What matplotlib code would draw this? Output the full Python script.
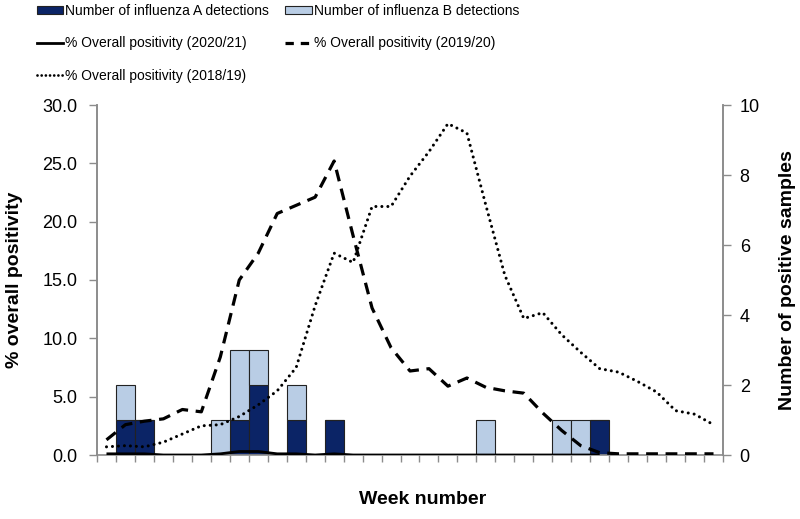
import matplotlib
matplotlib.use("Agg")
import matplotlib.pyplot as plt
from matplotlib import font_manager
from matplotlib.patches import Patch
from matplotlib.lines import Line2D
import numpy as np

# ---------------- data ----------------
weeks = [40, 41, 42, 43, 44, 45, 46, 47, 48, 49, 50, 51, 52,
         1, 2, 3, 4, 5, 6, 7, 8, 9, 10, 11, 12, 13, 14, 15, 16, 17, 18, 19, 20]
flu_a = [0, 1, 1, 0, 0, 0, 0, 1, 2, 0, 1, 0, 1,
         0, 0, 0, 0, 0, 0, 0, 0, 0, 0, 0, 0, 0, 1, 0, 0, 0, 0, 0, 0]
flu_b = [0, 1, 0, 0, 0, 0, 1, 2, 1, 0, 1, 0, 0,
         0, 0, 0, 0, 0, 0, 0, 1, 0, 0, 0, 1, 1, 0, 0, 0, 0, 0, 0, 0]
pos_2020_21 = [0.1, 0.1, 0.1, 0.0, 0.0, 0.0, 0.1, 0.3, 0.3, 0.1, 0.1, 0.0, 0.1,
               0.0, 0.0, 0.0, 0.0, 0.0, 0.0, 0.0, 0.0, 0.0, 0.0, 0.0, 0.0, 0.0, 0.0]
pos_2019_20 = [1.3, 2.6, 2.9, 3.1, 3.9, 3.7, 8.4, 15.0, 17.3, 20.7, 21.4, 22.1, 25.2,
               18.8, 12.6, 9.2, 7.2, 7.4, 5.9, 6.6, 5.8, 5.5, 5.3, 3.6, 2.1, 0.8, 0.2,
               0.1, 0.1, 0.1, 0.1, 0.1, 0.1]
pos_2018_19 = [0.7, 0.8, 0.7, 1.1, 1.8, 2.5, 2.6, 3.3, 4.3, 5.5, 7.5, 12.8, 17.3,
               16.5, 21.3, 21.3, 23.9, 26.0, 28.4, 27.6, 21.4, 15.4, 11.7, 12.2, 10.3,
               8.8, 7.4, 7.1, 6.3, 5.4, 3.8, 3.5, 2.6]

# ---------------- fonts ----------------
names = {f.name for f in font_manager.fontManager.ttflist}
base = 'Liberation Sans' if 'Liberation Sans' in names else 'DejaVu Sans'
narrow = 'Liberation Sans Narrow' if 'Liberation Sans Narrow' in names else None
plt.rcParams['font.family'] = [base, 'DejaVu Sans']
plt.rcParams['lines.scale_dashes'] = False

col_a = '#0b2466'
col_b = '#b9cde5'
gray = '#8c8c8c'

fig = plt.figure(figsize=(8.0, 5.19), dpi=100)
L, R, B, T = 97 / 800, 723 / 800, 64 / 519, 414 / 519
ax2 = fig.add_axes([L, B, R - L, T - B])  # bars (right axis)
ax = ax2.twinx()                           # lines (left axis), drawn on top
ax.yaxis.tick_left()
ax.yaxis.set_label_position('left')
ax2.yaxis.tick_right()
ax2.yaxis.set_label_position('right')

x = np.arange(len(weeks))
a = np.array(flu_a)
b = np.array(flu_b)
ax2.bar(x, a, width=1.0, color=col_a, edgecolor='#222222', linewidth=0.8)
ax2.bar(x, b, bottom=a, width=1.0, color=col_b, edgecolor='#222222', linewidth=0.8)

ax.plot(x[:len(pos_2020_21)], pos_2020_21, color='black', lw=2.0, solid_capstyle='butt')
ax.plot(x, pos_2019_20, color='black', lw=2.3, dashes=(8.5, 5.5), dash_capstyle='butt')
ax.plot(x, pos_2018_19, color='black', lw=2.2, dashes=(0.01, 4.3), dash_capstyle='round')

ax.set_xlim(-0.5, len(weeks) - 0.5)
ax2.set_xlim(-0.5, len(weeks) - 0.5)
ax.set_ylim(0, 30)
ax2.set_ylim(0, 10)

ax.set_yticks(np.arange(0, 30.1, 5))
ax.set_yticklabels([f"{v:.1f}" for v in np.arange(0, 30.1, 5)])
ax2.set_yticks(np.arange(0, 10.1, 2))
ax2.set_yticklabels([str(int(v)) for v in np.arange(0, 10.1, 2)])

lab_idx = [i for i, w in enumerate(weeks) if w % 2 == 0]
ax2.set_xticks(lab_idx)
ax2.set_xticklabels([str(weeks[i]) for i in lab_idx])
ax2.set_xticks(np.arange(-0.5, len(weeks)), minor=True)
ax2.tick_params(axis='x', which='major', length=0, pad=7, labelsize=13, colors='black')
ax2.tick_params(axis='x', which='minor', length=5, width=1, color=gray)
ax.set_xticks([])

ax.tick_params(axis='y', length=6, width=1, color=gray, labelsize=13, pad=8)
ax2.tick_params(axis='y', length=6, width=1, color=gray, labelsize=13, pad=6)

for a_ in (ax, ax2):
    a_.spines['top'].set_visible(False)
    for s in ('left', 'right', 'bottom'):
        a_.spines[s].set_color(gray)
        a_.spines[s].set_linewidth(1.2)
ax.spines['bottom'].set_visible(False)

ax.set_ylabel('% overall positivity', fontsize=14, fontweight='bold', labelpad=14)
ax2.set_ylabel('Number of positive samples', fontsize=14, fontweight='bold', labelpad=14)
fig.text(423 / 800, 1 - 500 / 519, 'Week number', fontsize=14, fontweight='bold',
         ha='center', va='center')

# legend (row-major order via column ordering)
h_a = Patch(facecolor=col_a, edgecolor='#222222', linewidth=0.8)
h_b = Patch(facecolor=col_b, edgecolor='#222222', linewidth=0.8)
h_20 = Line2D([], [], color='black', lw=2.0)
h_19 = Line2D([], [], color='black', lw=2.3, dashes=(6, 5))
h_18 = Line2D([], [], color='black', lw=2.0, dashes=(0.01, 3.0), dash_capstyle='round')
handles = [h_a, h_20, h_18, h_b, h_19]
labels = ['Number of influenza A detections', '% Overall positivity (2020/21)',
          '% Overall positivity (2018/19)', 'Number of influenza B detections',
          '% Overall positivity (2019/20)']
if narrow:
    lp = dict(family=narrow, size=11.5)
else:
    lp = dict(family=base, size=10)
fig.legend(handles, labels, loc='upper left', bbox_to_anchor=(37 / 800, 0.992),
           ncol=2, frameon=False, prop=lp, handlelength=1.9, handleheight=0.55,
           handletextpad=0.15, columnspacing=1.15, labelspacing=1.32, borderpad=0.0,
           borderaxespad=0)

fig.savefig('out.png', dpi=100)
